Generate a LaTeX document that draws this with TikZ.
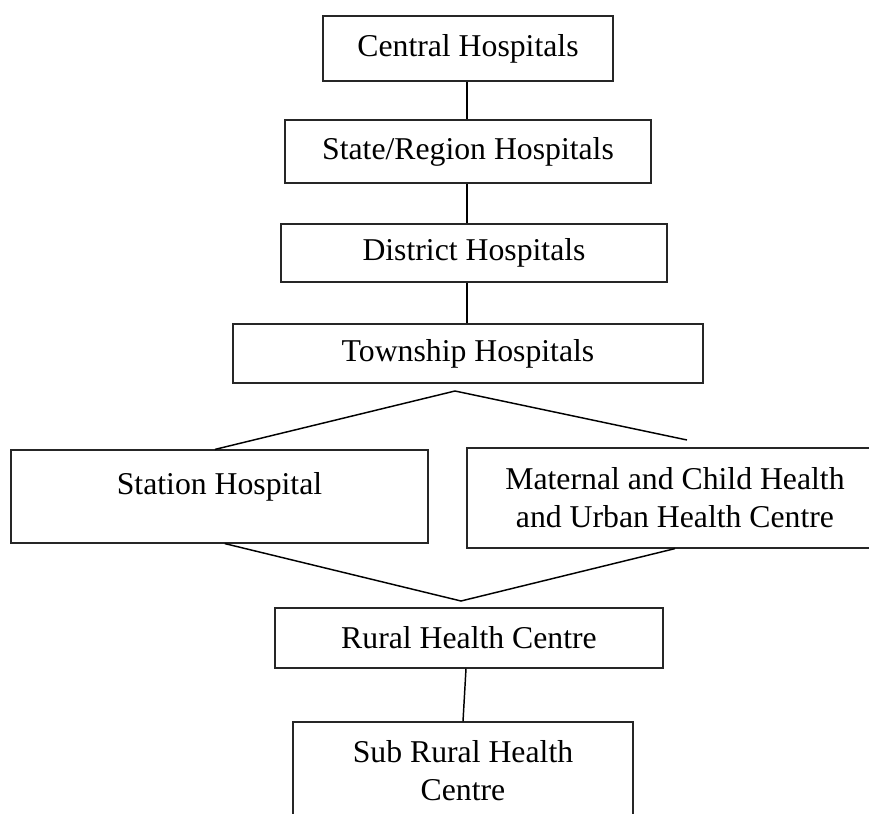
\documentclass[tikz,border=0pt]{standalone}
\usepackage{fontspec}
\setmainfont{Liberation Serif}
\begin{document}
\begin{tikzpicture}[x=0.75pt,y=-0.75pt,
  box/.style={draw=black!85,line width=0.9pt,fill=white,rectangle,inner sep=2pt,align=center,
    font=\fontsize{23.8}{28.5}\selectfont},
  conn/.style={draw=black,line width=1.1pt}]
\useasboundingbox (0,0) rectangle (869,814);
\clip (0,0) rectangle (869,814);
\node[box,minimum width=217.5pt,minimum height=48.75pt] (central) at (468,48.5) {Central Hospitals};
\node[box,minimum width=274.5pt,minimum height=47.25pt] (state) at (468,151.5) {State/Region Hospitals};
\node[box,minimum width=289.5pt,minimum height=43.5pt] (district) at (474,253) {District Hospitals};
\node[box,minimum width=352.5pt,minimum height=44.25pt] (township) at (468,353.5) {Township Hospitals};
\node[box,minimum width=312.75pt,minimum height=69.75pt,text depth=20pt] (station) at (219.5,496.5) {Station Hospital};
\node[box,minimum width=312pt,minimum height=75pt] (maternal) at (675,498) {Maternal and Child Health\\and Urban Health Centre};
\node[box,minimum width=291pt,minimum height=45pt] (rural) at (469,638) {Rural Health Centre};
\node[box,minimum width=255pt,minimum height=73.5pt] (sub) at (463,771) {Sub Rural Health\\Centre};
\coordinate (apexA) at (455,391);
\coordinate (freeA) at (687,440);
\coordinate (apexB) at (461,601);
\draw[conn] (central.south -| 467,0) -- (state.north -| 467,0);
\draw[conn] (state.south -| 467,0) -- (district.north -| 467,0);
\draw[conn] (district.south -| 467,0) -- (township.north -| 467,0);
\draw[conn] (apexA) -- ([xshift=-3.4pt]station.north);
\draw[conn] (apexA) -- (freeA);
\draw[conn] ([xshift=4pt]station.south) -- (apexB) -- (maternal.south);
\draw[conn] ([xshift=-2.25pt]rural.south) -- (sub.north);
\end{tikzpicture}
\end{document}
